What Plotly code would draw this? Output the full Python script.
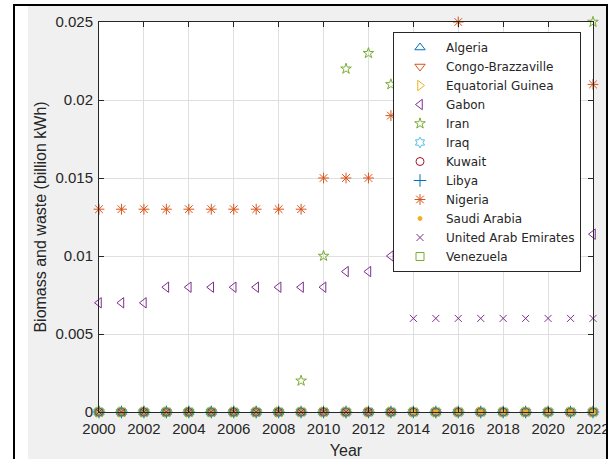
import plotly.graph_objects as go

years = list(range(2000, 2023))

countries = ["Algeria", "Congo-Brazzaville", "Equatorial Guinea", "Gabon", "Iran", "Iraq",
             "Kuwait", "Libya", "Nigeria", "Saudi Arabia", "United Arab Emirates", "Venezuela"]

algeria = [0] * 23
congo = [0] * 23
eq_guinea = [0] * 23
gabon = [0.007, 0.007, 0.007, 0.008, 0.008, 0.008, 0.008, 0.008, 0.008, 0.008, 0.008,
         0.009, 0.009, 0.010, 0.010, 0.010, 0.011, 0.011, 0.011, 0.011, 0.011, 0.011, 0.0114]
iran = [0, 0, 0, 0, 0, 0, 0, 0, 0, 0.002, 0.010, 0.022, 0.023, 0.021, 0.022, 0.023,
        0.023, 0.024, 0.023, 0.023, 0.023, 0.024, 0.025]
iraq = [0] * 23
kuwait = [0] * 23
libya = [0] * 23
nigeria = [0.013, 0.013, 0.013, 0.013, 0.013, 0.013, 0.013, 0.013, 0.013, 0.013, 0.015,
           0.015, 0.015, 0.019, 0.020, 0.022, 0.025, 0.023, 0.022, 0.022, 0.021, 0.021, 0.021]
saudi = [0] * 23
uae = [0, 0, 0, 0, 0, 0, 0, 0, 0, 0, 0, 0, 0, 0, 0.006, 0.006, 0.006, 0.006, 0.006,
       0.006, 0.006, 0.006, 0.006]
venezuela = [0] * 23

series = [algeria, congo, eq_guinea, gabon, iran, iraq, kuwait, libya, nigeria, saudi, uae, venezuela]

colors = ["#0072BD", "#D95319", "#EDB120", "#7E2F8E", "#77AC30", "#4DBEEE",
          "#A2142F", "#0072BD", "#D95319", "#EDB120", "#7E2F8E", "#77AC30"]
symbols = ["triangle-up-open", "triangle-down-open", "triangle-right-open", "triangle-left-open",
           "star-open", "hexagram-open", "circle-open", "cross-thin-open", "asterisk-open",
           "circle", "x-thin-open", "square-open"]
sizes = [9, 9, 9, 9, 8, 8, 8, 9, 9, 4, 7, 8]

fig = go.Figure()
for name, vals, c, s, sz in zip(countries, series, colors, symbols, sizes):
    fig.add_trace(go.Scatter(
        x=years, y=vals, name=name, mode="markers", cliponaxis=False,
        marker=dict(symbol=s, size=sz, color=c, line=dict(color=c, width=1)),
    ))

W, H = 616, 459
L, R, T, B = 99, 23, 22, 47
pw, ph = W - L - R, H - T - B


def px(xp):
    return (xp - L) / pw


def py(yp):
    return (H - B - yp) / ph


shapes = [
    # white strips outside the grey figure window
    dict(type="rect", xref="paper", yref="paper", x0=px(0), x1=px(28), y0=py(H + 5), y1=py(-5),
         fillcolor="white", line=dict(width=0), layer="above"),
    dict(type="rect", xref="paper", yref="paper", x0=px(606), x1=px(W + 5), y0=py(H + 5), y1=py(-5),
         fillcolor="white", line=dict(width=0), layer="above"),
    dict(type="rect", xref="paper", yref="paper", x0=px(0), x1=px(W + 5), y0=py(4), y1=py(-5),
         fillcolor="white", line=dict(width=0), layer="above"),
    # black window border
    dict(type="line", xref="paper", yref="paper", x0=px(14), x1=px(14), y0=py(H + 5), y1=py(4),
         line=dict(color="black", width=2), layer="above"),
    dict(type="line", xref="paper", yref="paper", x0=px(13), x1=px(608), y0=py(5), y1=py(5),
         line=dict(color="black", width=2), layer="above"),
    dict(type="line", xref="paper", yref="paper", x0=px(607), x1=px(607), y0=py(H + 5), y1=py(4),
         line=dict(color="black", width=2), layer="above"),
]

axis_common = dict(
    showline=True, linecolor="#262626", linewidth=1, mirror="ticks",
    ticks="inside", ticklen=5, tickcolor="#262626", automargin=False,
    showgrid=True, gridcolor="#dfdfdf", gridwidth=1, zeroline=False,
    tickfont=dict(family="Liberation Sans, Arial", size=15, color="#262626"),
)

fig.update_layout(
    width=W, height=H,
    margin=dict(l=L, r=R, t=T, b=B, pad=0, autoexpand=False),
    paper_bgcolor="#f0f0f0", plot_bgcolor="white",
    font=dict(family="Liberation Sans, Arial", color="#262626"),
    xaxis=dict(range=[2000, 2022], tick0=2000, dtick=2, ticklabelstandoff=3,
               title=dict(text="Year", font=dict(size=16, color="#262626"), standoff=8),
               **axis_common),
    yaxis=dict(range=[0, 0.025], tick0=0, dtick=0.005, ticklabelstandoff=2,
               title=dict(text="Biomass and waste (billion kWh)", font=dict(size=16, color="#262626"),
                          standoff=4),
               **axis_common),
    legend=dict(x=px(393), y=py(32), xanchor="left", yanchor="top",
                bgcolor="white", bordercolor="#262626", borderwidth=1,
                font=dict(family="DejaVu Sans", size=12, color="#262626"),
                tracegroupgap=0, itemwidth=42),
    showlegend=True,
    shapes=shapes,
)

fig.write_html("out.html", config={"displayModeBar": False},
               post_script="document.body.style.margin='0px';document.body.style.overflow='hidden';")
